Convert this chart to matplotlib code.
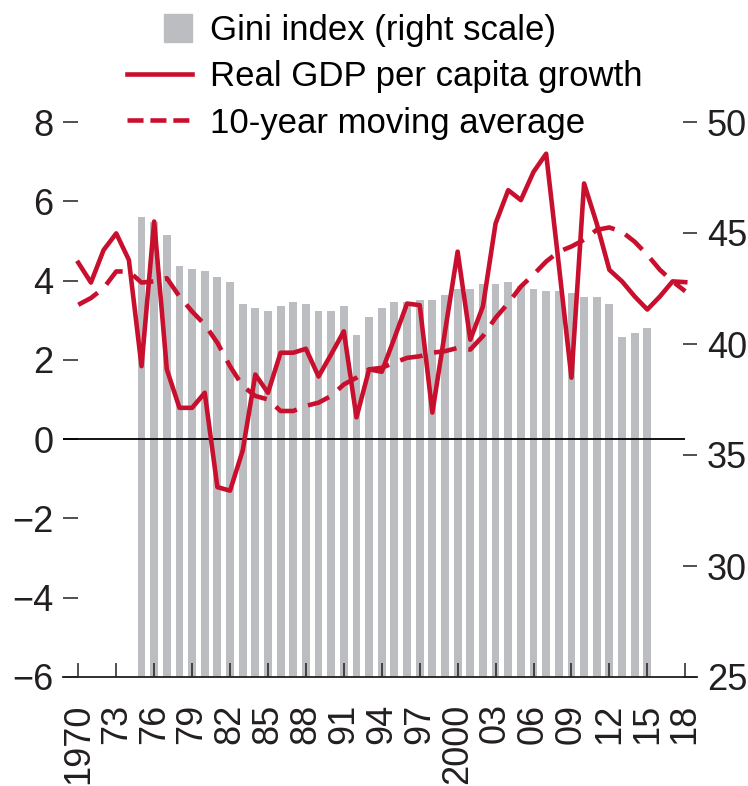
import numpy as np
import matplotlib
matplotlib.use('Agg')
import matplotlib.pyplot as plt
import matplotlib.patches as mpatches
from matplotlib.lines import Line2D
from matplotlib.legend_handler import HandlerPatch

plt.rcParams['font.family'] = ['Liberation Sans Narrow', 'Liberation Sans', 'DejaVu Sans']

# data
years = np.arange(1970, 2019)
gdp_growth = [4.45, 3.95, 4.77, 5.19, 4.52, 1.84, 5.49, 1.76, 0.79, 0.79,
              1.17, -1.21, -1.30, -0.29, 1.63, 1.17, 2.18, 2.18, 2.28, 1.58,
              2.14, 2.72, 0.55, 1.76, 1.70, 2.55, 3.42, 3.38, 0.67, 2.71,
              4.73, 2.51, 3.35, 5.44, 6.28, 6.03, 6.74, 7.20, 4.40, 1.55,
              6.45, 5.44, 4.27, 3.98, 3.60, 3.27, 3.60, 3.98, 3.96]
moving_avg = [3.39, 3.56, 3.81, 4.23, 4.23, 3.95, 3.98, 4.06, 3.60, 3.22,
              2.89, 2.43, 1.84, 1.34, 1.09, 1.00, 0.71, 0.71, 0.84, 0.92,
              1.09, 1.38, 1.55, 1.76, 1.80, 1.93, 2.05, 2.09, 2.18, 2.22,
              2.30, 2.26, 2.60, 3.06, 3.43, 3.85, 4.15, 4.48, 4.73, 4.86,
              5.03, 5.28, 5.34, 5.23, 4.98, 4.65, 4.27, 3.98, 3.73]
gini_years = np.arange(1975, 2016)
gini = [45.7, 45.5, 44.9, 43.5, 43.4, 43.3, 43.0, 42.8, 41.8, 41.6,
        41.5, 41.7, 41.9, 41.8, 41.5, 41.5, 41.7, 40.4, 41.2, 41.6,
        41.9, 41.9, 42.0, 42.0, 42.2, 42.5, 42.5, 42.7, 42.7, 42.8,
        42.6, 42.5, 42.4, 42.4, 42.3, 42.1, 42.1, 41.8, 40.3, 40.5,
        40.7]
tick_years = np.arange(1970, 2019, 3)
tick_labels = ['1970', '73', '76', '79', '82', '85', '88', '91', '94', '97',
               '2000', '03', '06', '09', '12', '15', '18']

red = '#C8102E'
gray = '#BCBDC0'
ink = '#231F20'
fs = 26
legend_fs = 25


def square_patch(legend, orig_handle, xdescent, ydescent, width, height, fontsize):
    s = 0.8 * fontsize
    return mpatches.Rectangle((width - xdescent - s, -ydescent + (height - s) / 2), s, s)


fig = plt.figure(figsize=(7.48, 7.86), dpi=100)
ax = fig.add_axes([63 / 748, 109 / 786, 634 / 748, 555 / 786])
ax2 = ax.twinx()

ax2.bar(gini_years, gini, width=0.62, color=gray, linewidth=0)
ax2.set_ylim(25, 50)
ax2.set_yticks(np.arange(25, 51, 5))

ax.set_zorder(ax2.get_zorder() + 1)
ax.patch.set_visible(False)

x_left, x_right = 1968.79, 2018.93
ax.hlines(0, x_left, years[-1], color='black', lw=1.3)
ax.plot(years, gdp_growth, color=red, lw=3.3)
ax.plot(years, moving_avg, color=red, lw=3.3, dashes=(5, 2.6))

ax.set_xlim(x_left, x_right)
ax.set_ylim(-6, 8)
ax.set_yticks(np.arange(-6, 9, 2))
ax.set_xticks(tick_years)
ax.set_xticklabels(tick_labels, rotation=90)

for a in (ax, ax2):
    for side in ('left', 'right', 'top', 'bottom'):
        a.spines[side].set_visible(False)
ax.spines['bottom'].set_visible(True)
ax.spines['bottom'].set_color(ink)
ax.spines['bottom'].set_linewidth(1.3)

ax.tick_params(axis='y', direction='in', length=11, width=1.1, pad=7,
               labelsize=fs, colors=ink)
ax.tick_params(axis='x', direction='in', length=10, width=1.1, pad=19,
               labelsize=fs, colors=ink)
ax2.tick_params(axis='y', direction='in', length=10, width=1.1, pad=7,
                labelsize=fs, colors=ink)

handles = [mpatches.Patch(color=gray),
           Line2D([], [], color=red, lw=3.3),
           Line2D([], [], color=red, lw=3.3, dashes=(3.5, 1.5))]
labels = ['Gini index (right scale)', 'Real GDP per capita growth',
          '10-year moving average']
ax.legend(handles, labels, loc='upper left', bbox_to_anchor=(127 / 748, 0.982),
          bbox_transform=fig.transFigure, frameon=False, fontsize=legend_fs,
          handlelength=1.87, handletextpad=0.52, labelspacing=0.38,
          borderpad=0, borderaxespad=0,
          handler_map={mpatches.Patch: HandlerPatch(patch_func=square_patch)})

fig.savefig('out.png', dpi=100)
